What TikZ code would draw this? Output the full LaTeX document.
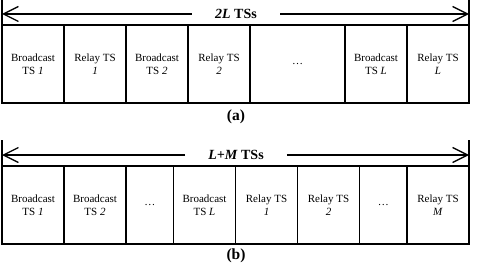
\documentclass[tikz,border=0pt]{standalone}
\usepackage{fontspec}
\setmainfont{Liberation Serif}
\usetikzlibrary{arrows.meta,positioning}

\begin{document}
\begin{tikzpicture}[x=1bp, y=1bp,
    slot/.style={rectangle, draw, line width=1.3bp, inner sep=0pt, outer sep=0pt,
                 minimum width=62bp, minimum height=78bp, align=center,
                 font=\fontsize{11bp}{12.5bp}\selectfont},
    wideslot/.style={slot, minimum width=95bp},
    narrowslot/.style={slot, minimum width=47.5bp},
    span/.style={font=\fontsize{14bp}{16bp}\selectfont\bfseries, inner ysep=0pt, inner xsep=23bp},
    caption/.style={font=\fontsize{15.5bp}{17bp}\selectfont\bfseries, inner sep=0pt},
    arr/.style={-{Straight Barb[length=15bp,width=15bp]}, line width=1.3bp},
    tick/.style={line width=1.3bp}
]
    \useasboundingbox (0,0) rectangle (486,269);

    % (a) 2L time slots
    \node[slot, anchor=north west] (a1) at (2,244) {Broadcast\\TS \textit{1}};
    \node[slot, right=0pt of a1] (a2) {Relay TS\\\textit{1}};
    \node[slot, right=0pt of a2] (a3) {Broadcast\\TS \textit{2}};
    \node[slot, right=0pt of a3] (a4) {Relay TS\\\textit{2}};
    \node[wideslot, right=0pt of a4] (a5) {\ldots};
    \node[slot, right=0pt of a5] (a6) {Broadcast\\TS \textit{L}};
    \node[slot, right=0pt of a6] (a7) {Relay TS\\\textit{L}};

    \coordinate[above=25bp of a1.north west] (aTL);
    \coordinate[above=25bp of a7.north east] (aTR);
    \draw[tick] (a1.north west) -- (aTL);
    \draw[tick] (a7.north east) -- (aTR);

    \node[span] (spanA) at (236,255) {\textit{2L} TSs};
    \draw[arr] (spanA.west) -- (spanA.west -| aTL);
    \draw[arr] (spanA.east) -- (spanA.east -| aTR);
    \node[caption] (capA) at (236,152) {(a)};

    % (b) L+M time slots
    \node[slot, anchor=north west] (b1) at (2,103) {Broadcast\\TS \textit{1}};
    \node[slot, right=0pt of b1] (b2) {Broadcast\\TS \textit{2}};
    \node[narrowslot, right=0pt of b2] (b3) {\ldots};
    \node[slot, right=0pt of b3] (b4) {Broadcast\\TS \textit{L}};
    \node[slot, right=0pt of b4] (b5) {Relay TS\\\textit{1}};
    \node[slot, right=0pt of b5] (b6) {Relay TS\\\textit{2}};
    \node[narrowslot, right=0pt of b6] (b7) {\ldots};
    \node[slot, right=0pt of b7] (b8) {Relay TS\\\textit{M}};

    \coordinate[above=26bp of b1.north west] (bTL);
    \coordinate[above=26bp of b8.north east] (bTR);
    \draw[tick] (b1.north west) -- (bTL);
    \draw[tick] (b8.north east) -- (bTR);

    \node[span] (spanB) at (236,114) {\textit{L+M} TSs};
    \draw[arr] (spanB.west) -- (spanB.west -| bTL);
    \draw[arr] (spanB.east) -- (spanB.east -| bTR);
    \node[caption] (capB) at (236,13) {(b)};
\end{tikzpicture}
\end{document}
